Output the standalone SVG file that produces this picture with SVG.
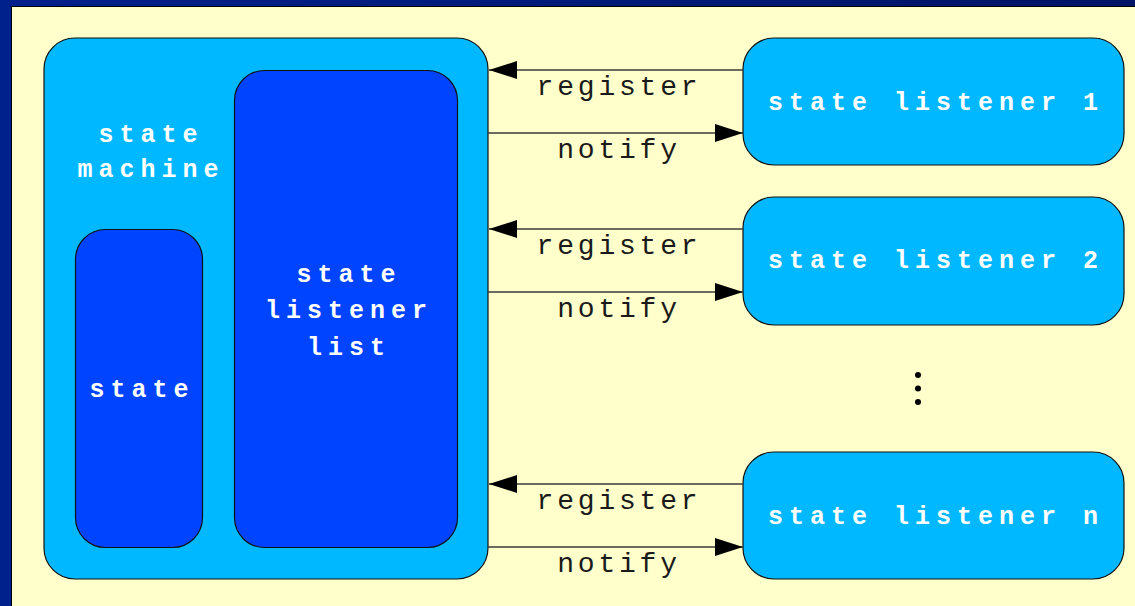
<svg xmlns="http://www.w3.org/2000/svg" width="1135" height="606" viewBox="0 0 1135 606">
  <style>
    .frame { fill: #00208c; }
    .page { fill: #ffffcc; stroke: #000; stroke-width: 1; }
    .outer { fill: #00b8ff; stroke: #111; stroke-width: 1.2; }
    .inner { fill: #0044ff; stroke: #111; stroke-width: 1.2; }
    .name { font-family: "Liberation Mono", "Courier New", monospace; font-weight: bold; font-size: 25px; letter-spacing: 6px; fill: #ffffff; text-anchor: middle; }
    .msg { font-family: "Liberation Mono", "Courier New", monospace; font-size: 28px; letter-spacing: 3.8px; fill: #1a1a1a; text-anchor: middle; }
    .link { stroke: #3a3a3a; stroke-width: 1.3; fill: none; }
  </style>
  <defs>
    <linearGradient id="topBand" x1="0" y1="0" x2="1" y2="0">
      <stop offset="0" stop-color="#00208c"/>
      <stop offset="1" stop-color="#001466"/>
    </linearGradient>
    <marker id="head" markerUnits="userSpaceOnUse" markerWidth="28" markerHeight="18" refX="28" refY="9" orient="auto">
      <path d="M0,0 L28,9 L0,18 Z" fill="#000"/>
    </marker>
  </defs>

  <!-- slide frame -->
  <rect class="frame" x="0" y="0" width="1135" height="606"/>
  <rect x="0" y="0" width="1135" height="6" fill="url(#topBand)"/>
  <rect class="page" x="11.5" y="6.5" width="1130" height="606"/>

  <!-- state machine -->
  <g id="state-machine">
    <rect class="outer" x="44" y="38" width="444" height="541" rx="31" ry="31"/>
    <text class="name" x="151" y="142">state</text>
    <text class="name" x="151" y="177">machine</text>
  </g>

  <g id="state">
    <rect class="inner" x="75.5" y="229.5" width="127" height="318" rx="30" ry="30"/>
    <text class="name" x="142" y="397">state</text>
  </g>

  <g id="state-listener-list">
    <rect class="inner" x="234.5" y="70.5" width="223" height="477" rx="30" ry="30"/>
    <text class="name" x="349" y="282">state</text>
    <text class="name" x="349" y="318">listener</text>
    <text class="name" x="349" y="355">list</text>
  </g>

  <!-- listeners -->
  <g id="state-listener-1">
    <rect class="outer" x="743" y="38" width="381" height="127" rx="31" ry="31"/>
    <text class="name" x="936" y="110">state listener 1</text>
  </g>
  <g id="state-listener-2">
    <rect class="outer" x="743" y="197" width="381" height="128" rx="31" ry="31"/>
    <text class="name" x="936" y="268">state listener 2</text>
  </g>
  <g id="state-listener-n">
    <rect class="outer" x="743" y="452" width="381" height="127" rx="31" ry="31"/>
    <text class="name" x="936" y="524">state listener n</text>
  </g>

  <!-- ellipsis between listeners -->
  <g id="more-listeners" fill="#000">
    <circle cx="918" cy="375" r="3"/>
    <circle cx="918" cy="388.5" r="3"/>
    <circle cx="918" cy="402" r="3"/>
  </g>

  <!-- register / notify connectors -->
  <g id="connectors">
    <line class="link" x1="743" y1="70" x2="489" y2="70" marker-end="url(#head)"/>
    <line class="link" x1="488" y1="133" x2="743" y2="133" marker-end="url(#head)"/>
    <line class="link" x1="743" y1="229" x2="489" y2="229" marker-end="url(#head)"/>
    <line class="link" x1="488" y1="292" x2="743" y2="292" marker-end="url(#head)"/>
    <line class="link" x1="743" y1="484" x2="489" y2="484" marker-end="url(#head)"/>
    <line class="link" x1="488" y1="547" x2="743" y2="547" marker-end="url(#head)"/>

    <text class="msg" x="619" y="95">register</text>
    <text class="msg" x="619" y="158">notify</text>
    <text class="msg" x="619" y="254">register</text>
    <text class="msg" x="619" y="317">notify</text>
    <text class="msg" x="619" y="509">register</text>
    <text class="msg" x="619" y="572">notify</text>
  </g>
</svg>
